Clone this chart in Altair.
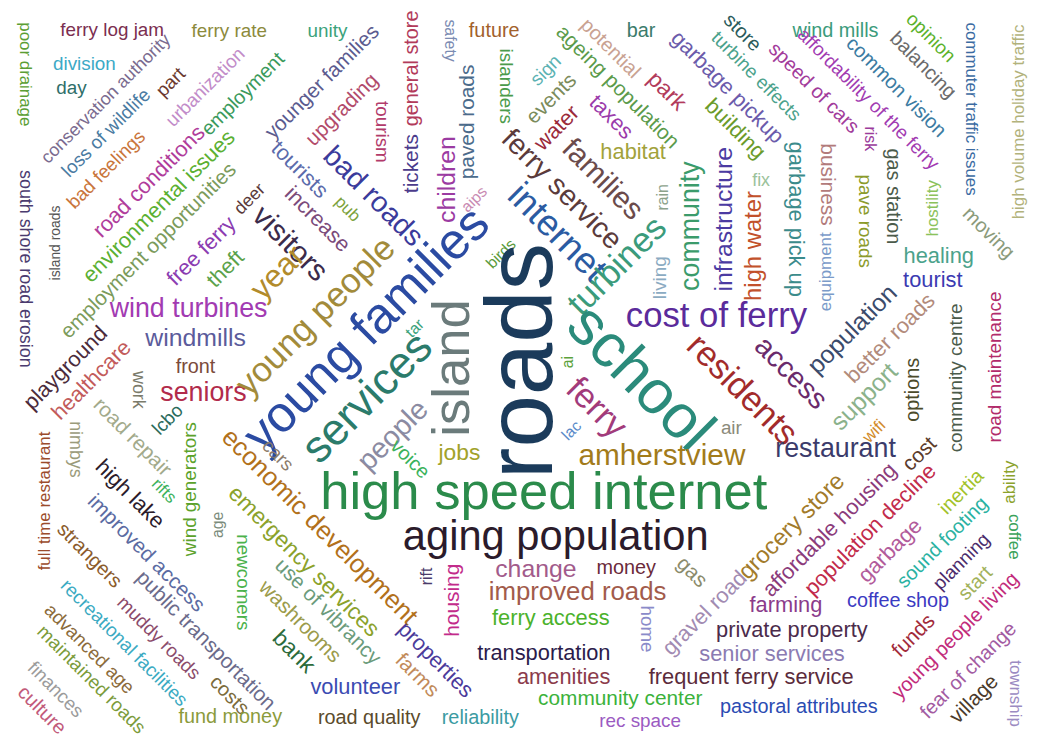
import altair as alt
import pandas as pd

words = [
    "poor drainage", "ferry log jam", "ferry rate", "division", "day", "conservation authority", "loss of wildlife", "part", "urbanization", "employment",
    "bad feelings", "road conditions", "environmental issues", "employment opportunities", "deer", "free ferry", "south shore road erosion", "island roads", "unity", "younger families",
    "upgrading", "tourism", "tickets", "general store", "safety", "future", "paved roads", "islanders", "children", "tourists",
    "bad roads", "aips", "pub", "increase", "visitors", "potential", "bar", "ageing population", "sign", "events",
    "park", "taxes", "water", "habitat", "ferry service", "families", "internet", "rain", "community", "infrastructure",
    "turbines", "high water", "fix", "store", "garbage pickup", "turbine effects", "building", "wind mills", "affordability of the ferry", "speed of cars",
    "common vision", "opinion", "balancing", "commuter traffic issues", "high volume holiday traffic", "risk", "business", "garbage pick up", "equipment", "pave roads",
    "gas station", "hostility", "moving", "wind turbines", "windmills", "playground", "healthcare", "front", "seniors", "work",
    "road repair", "lcbo", "nimbys", "full time restaurant", "economic development", "rifts", "wind generators", "high lake", "year", "young people",
    "young families", "services", "island", "tar", "people", "cars", "voice", "jobs", "birds", "roads",
    "living", "cost of ferry", "school", "ai", "ferry", "lac", "residents", "air", "amherstview", "high speed internet",
    "access", "healing", "tourist", "population", "better roads", "support", "options", "community centre", "road maintenance", "wifi",
    "restaurant", "cost", "ability", "inertia", "coffee", "improved access", "strangers", "public transportation", "recreational facilities", "muddy roads",
    "advanced age", "maintained roads", "finances", "culture", "costs", "fund money", "age", "newcomers", "emergency services", "use of vibrancy",
    "washrooms", "bank", "rift", "housing", "properties", "farms", "volunteer", "road quality", "reliability", "aging population",
    "change", "improved roads", "ferry access", "transportation", "money", "gas", "grocery store", "home", "gravel road", "amenities",
    "frequent ferry service", "community center", "rec space", "pastoral attributes", "private property", "senior services", "farming", "affordable housing", "population decline", "garbage",
    "sound footing", "planning", "start", "coffee shop", "funds", "young people living", "fear of change", "village", "township", "theft",
]

# layout position of each word in the cloud (pixel coordinates of the picture)
pos_x = [
    25, 113, 231, 85, 72, 107, 107, 172, 207, 245,
    107, 150, 160, 150, 252, 203, 25, 56, 330, 325,
    345, 385, 415, 415, 453, 498, 472, 510, 450, 302,
    376, 478, 350, 320, 292, 615, 646, 622, 550, 556,
    672, 616, 561, 638, 566, 607, 561, 668, 696, 730,
    622, 760, 767, 748, 733, 762, 741, 842, 875, 820,
    903, 938, 930, 978, 1027, 877, 833, 802, 832, 872,
    900, 940, 996, 190, 197, 66, 92, 197, 205, 139,
    133, 169, 75, 45, 322, 165, 191, 131, 280, 318,
    370, 370, 457, 418, 396, 280, 413, 463, 505, 527,
    665, 722, 645, 572, 601, 576, 748, 737, 667, 548,
    797, 946, 940, 859, 897, 871, 920, 963, 1003, 881,
    842, 927, 1018, 969, 1022, 147, 90, 207, 125, 160,
    90, 92, 56, 42, 231, 232, 220, 245, 306, 330,
    302, 296, 430, 457, 439, 420, 358, 372, 484, 560,
    540, 582, 555, 548, 631, 697, 798, 652, 710, 568,
    757, 625, 645, 805, 798, 778, 792, 836, 877, 897,
    950, 969, 983, 905, 921, 963, 976, 982, 1023, 227,
]
pos_y = [
    72, 27, 28, 62, 86, 97, 131, 80, 85, 92,
    168, 180, 205, 250, 198, 250, 268, 242, 28, 80,
    108, 130, 162, 66, 38, 28, 120, 84, 178, 168,
    195, 198, 208, 218, 243, 46, 28, 85, 68, 97,
    89, 115, 126, 150, 188, 178, 232, 196, 225, 218,
    265, 245, 180, 30, 85, 74, 127, 28, 97, 86,
    85, 35, 63, 107, 120, 137, 183, 218, 271, 220,
    195, 207, 232, 309, 338, 368, 380, 367, 393, 390,
    438, 420, 450, 502, 528, 492, 490, 495, 272, 316,
    330, 398, 368, 328, 436, 456, 460, 454, 253, 361,
    277, 316, 378, 362, 408, 431, 390, 428, 457, 494,
    373, 255, 279, 329, 338, 397, 390, 378, 367, 432,
    450, 455, 483, 493, 538, 555, 557, 643, 645, 640,
    651, 682, 692, 713, 698, 720, 526, 584, 563, 614,
    624, 654, 578, 602, 662, 678, 690, 721, 721, 538,
    571, 594, 620, 655, 570, 574, 528, 631, 615, 679,
    679, 702, 724, 710, 632, 656, 607, 531, 531, 552,
    544, 563, 585, 603, 638, 638, 673, 702, 696, 268,
]
rot = [
    90, 0, 0, 0, 0, 315, 315, 315, 315, 315,
    315, 315, 315, 315, 315, 315, 90, 270, 0, 315,
    315, 90, 270, 270, 90, 0, 270, 90, 270, 45,
    45, 315, 45, 45, 45, 45, 0, 45, 315, 315,
    45, 45, 315, 0, 45, 45, 45, 270, 270, 270,
    315, 270, 0, 45, 45, 45, 45, 0, 45, 45,
    45, 45, 45, 90, 270, 90, 90, 90, 270, 90,
    90, 270, 45, 0, 0, 315, 315, 0, 0, 90,
    45, 315, 90, 270, 45, 45, 270, 45, 315, 315,
    315, 315, 270, 315, 315, 45, 45, 0, 315, 270,
    270, 0, 45, 270, 45, 315, 45, 0, 0, 0,
    45, 0, 0, 315, 315, 315, 270, 270, 270, 315,
    0, 315, 270, 315, 90, 45, 45, 45, 45, 45,
    45, 45, 45, 45, 45, 0, 270, 90, 45, 45,
    45, 45, 270, 270, 45, 45, 0, 0, 0, 0,
    0, 0, 0, 0, 0, 45, 315, 90, 315, 0,
    0, 0, 0, 0, 0, 0, 0, 315, 315, 315,
    315, 315, 315, 0, 315, 315, 315, 315, 90, 315,
]
weight = [
    17, 19, 19, 19, 19, 18, 19, 19, 19, 20,
    19, 22, 22, 21, 18, 22, 18, 14, 19, 21,
    21, 19, 21, 20, 16, 20, 21, 19, 25, 22,
    29, 16, 17, 22, 30, 20, 20, 21, 19, 21,
    23, 22, 22, 22, 29, 30, 37, 16, 27, 25,
    35, 24, 18, 20, 22, 19, 22, 20, 19, 20,
    20, 19, 20, 17, 17, 16, 21, 22, 17, 19,
    20, 17, 20, 27, 25, 22, 22, 20, 27, 18,
    21, 19, 18, 17, 26, 17, 19, 22, 32, 35,
    51, 45, 53, 16, 29, 19, 20, 23, 16, 95,
    19, 35, 62, 16, 35, 16, 35, 19, 30, 53,
    29, 22, 22, 25, 22, 25, 20, 19, 19, 17,
    27, 21, 17, 20, 17, 21, 20, 21, 19, 19,
    19, 19, 19, 20, 20, 20, 16, 19, 23, 21,
    21, 23, 16, 21, 22, 21, 22, 20, 20, 42,
    25, 26, 22, 22, 20, 21, 24, 19, 22, 22,
    22, 21, 19, 20, 22, 22, 22, 22, 22, 22,
    20, 19, 20, 20, 21, 20, 20, 21, 17, 22,
]
colours = [
    "#5b9e34", "#7b2e50", "#8c8a3c", "#3ca9c6", "#2f6f6a", "#7a6b8f", "#4a7ba2", "#6c3a2f", "#c28cc9", "#3b9a5c",
    "#c9753b", "#b03c9b", "#5bb032", "#7b9b5b", "#5a3b3b", "#8b3cb1", "#4b3b6f", "#555555", "#3ba27b", "#5b5b8f",
    "#b24b6b", "#b23b6b", "#4b3b8b", "#b23b5b", "#7b8bb2", "#a2612b", "#4b6b8b", "#4b9b4b", "#9b3ba2", "#5b6bab",
    "#3b3b9b", "#c98bb2", "#7ba23b", "#7b4b7b", "#3b2b4b", "#c9a292", "#3b7b6b", "#5b9b4b", "#5bb2b2", "#7b8b5b",
    "#b23b5b", "#9b3bab", "#9b2b3b", "#a2a23b", "#5b3b3b", "#6b4b4b", "#2b5ba2", "#8ba28b", "#3b9b6b", "#4b3ba2",
    "#3b9b7b", "#c2512b", "#9bc29b", "#2b5b5b", "#6b5bab", "#4ba28b", "#6b9b2b", "#3b9b7b", "#a23bb2", "#a23b9b",
    "#3b7ba2", "#5bb22b", "#6b6b6b", "#3b6ba2", "#b2b27b", "#9b3b9b", "#b27b7b", "#3b8b8b", "#7b9bc9", "#8b9b2b",
    "#4b5b4b", "#8bc25b", "#8b9b7b", "#a23bb2", "#5b5b9b", "#4b2b3b", "#c25b5b", "#7b4b3b", "#b22b4b", "#7b7b6b",
    "#a2aa8b", "#2b6b5b", "#9b9b7b", "#9b4b2b", "#b2711b", "#3bb25b", "#5ba22b", "#2b1b2b", "#b28b2b", "#a28b3b",
    "#2b4ba2", "#2b7b6b", "#6b7b7b", "#3ba27b", "#8b8ba2", "#8b7b6b", "#3bb25b", "#a2a22b", "#5b9b3b", "#1b3b5b",
    "#8babc2", "#5b2b9b", "#2b8b7b", "#5ba23b", "#a23b7b", "#5b8bc9", "#a22b2b", "#8b8b7b", "#a27b1b", "#2b8b4b",
    "#6b2b6b", "#4ba28b", "#3b3bb2", "#3b4b6b", "#b28b7b", "#8bb28b", "#4b4b2b", "#4b5b4b", "#b22b6b", "#d28b2b",
    "#3b3b6b", "#5b3b2b", "#8ba22b", "#a2c22b", "#3ba25b", "#5b6ba2", "#8b5b2b", "#6b6b8b", "#3baac2", "#8b4b6b",
    "#8b6b3b", "#7b9b3b", "#9b9b9b", "#c25b7b", "#7b6b3b", "#8b9b3b", "#7b8b7b", "#4bb24b", "#8ba22b", "#6b9b7b",
    "#9b9b4b", "#2b6b3b", "#4b3b6b", "#c22b8b", "#4b3b9b", "#c28b5b", "#3b4bb2", "#5b4b2b", "#3b9ba2", "#2b1b2b",
    "#a25b8b", "#a25b4b", "#4bb22b", "#2b1b4b", "#6b2b3b", "#8b8b6b", "#a27b2b", "#8b8bc9", "#a28bb2", "#8b3b4b",
    "#5b2b3b", "#3bb23b", "#9b5bc2", "#2b4bb2", "#4b2b4b", "#8b7bb2", "#8b3b8b", "#8b3b7b", "#c22b4b", "#b25b9b",
    "#2bb2a2", "#4b2b6b", "#a2b25b", "#3b3bc2", "#a22b3b", "#c22b7b", "#a25ba2", "#4b3b2b", "#9b8bc2", "#5ba24b",
]

n = len(words)
assert all(len(a) == n for a in (pos_x, pos_y, rot, weight, colours))

df = pd.DataFrame({
    "word": words, "px": pos_x, "py": pos_y,
    "angle": rot, "fs": weight, "col": colours,
})

chart = alt.Chart(df).mark_text(
    font="Liberation Sans", align="center", baseline="middle"
).encode(
    x=alt.X("px:Q", scale=alt.Scale(domain=[8, 1040], nice=False, zero=False), axis=None),
    y=alt.Y("py:Q", scale=alt.Scale(domain=[739, 8], nice=False, zero=False), axis=None),
    text="word:N",
    angle=alt.Angle("angle:Q", scale=None),
    size=alt.Size("fs:Q", scale=None, legend=None),
    color=alt.Color("col:N", scale=None, legend=None),
).properties(
    width=1032, height=731, padding=0, autosize="none"
).configure_view(stroke=None)

chart.save("out.html", embed_options={"renderer": "svg", "actions": False})
